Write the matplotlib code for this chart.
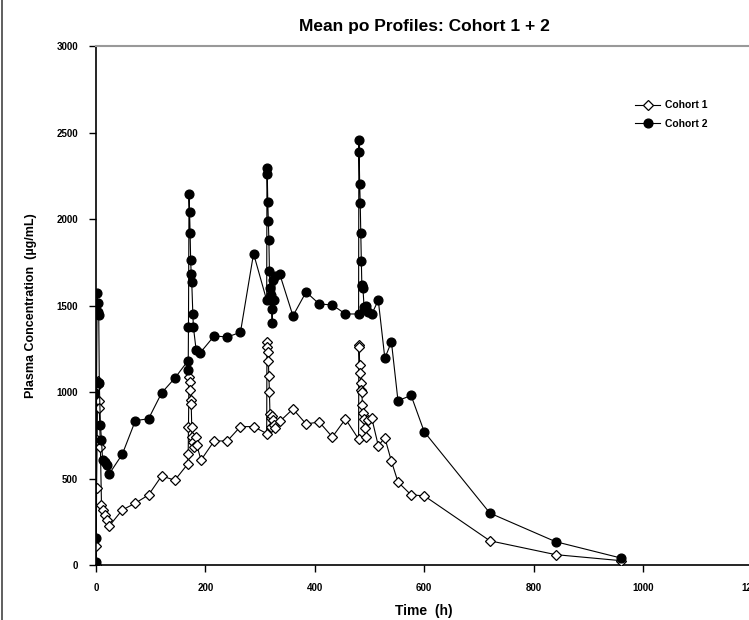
import matplotlib.pyplot as plt
from matplotlib.lines import Line2D

# Temps (h) et concentrations (µg/mL)
t1 = [0, 0.5, 1, 2, 3, 4, 5, 6, 8, 10, 12, 16, 20, 24, 48, 72, 96, 120, 144, 168,
      168.5, 169, 170, 171, 172, 173, 174, 175, 176, 178, 180, 182, 184, 192, 216, 240, 264, 288, 312,
      312.5, 313, 314, 315, 316, 317, 318, 319, 320, 322, 324, 326, 328, 336, 360, 384, 408, 432, 456, 480,
      480.5, 481, 482, 483, 484, 485, 486, 487, 488, 490, 492, 494, 497, 504, 516, 528, 540, 552, 576, 600, 720, 840, 960]
c1 = [0, 110, 445, 720, 1065, 1040, 950, 905, 680, 345, 318, 289, 260, 225, 318, 358, 405, 515, 490, 585,
      640, 800, 1087, 1058, 1012, 954, 931, 798, 740, 711, 682, 740, 694, 607, 717, 717, 800, 800, 760,
      1290, 1260, 1230, 1180, 1090, 1000, 870, 850, 800, 860, 840, 810, 790, 830, 902, 815, 827, 740, 844, 728,
      1270, 1260, 1156, 1110, 1052, 1012, 1000, 925, 879, 844, 792, 740, 840, 850, 690, 735, 600, 480, 405, 400, 140, 60, 25]

t2 = [0, 0.5, 1, 2, 3, 4, 5, 6, 8, 10, 12, 16, 20, 24, 48, 72, 96, 120, 144, 168,
      168.5, 169, 170, 171, 172, 173, 174, 175, 177, 178, 183, 190, 216, 240, 264, 288, 312,
      312.5, 313, 314, 315, 316, 317, 318, 319, 320, 321, 322, 324, 326, 328, 336, 360, 384, 408, 432, 456, 480,
      480.5, 481, 482, 483, 484, 485, 486, 487, 488, 490, 494, 497, 504, 516, 528, 540, 552, 576, 600, 720, 840, 960]
c2 = [20, 156, 1060, 1570, 1515, 1465, 1445, 1050, 810, 722, 607, 595, 578, 526, 640, 835, 845, 995, 1080, 1180,
      1130, 1376, 2144, 2040, 1919, 1763, 1682, 1636, 1451, 1376, 1243, 1225, 1324, 1318, 1345, 1800, 1530,
      2295, 2260, 2100, 1990, 1880, 1700, 1600, 1560, 1530, 1480, 1400, 1650, 1530, 1670, 1680, 1440, 1578, 1509, 1503, 1451, 1451,
      2455, 2390, 2200, 2090, 1920, 1760, 1610, 1620, 1600, 1490, 1500, 1460, 1450, 1530, 1195, 1290, 950, 980, 770, 300, 135, 40]

plt.rcParams['font.family'] = ['Liberation Sans', 'DejaVu Sans']

fig = plt.figure(figsize=(7.49, 6.2), dpi=100)
ax = fig.add_axes([0.1282, 0.0887, 0.8764, 0.8371])

ax.plot(t1, c1, color='black', lw=0.8, marker='D', markersize=5,
        markerfacecolor='white', markeredgecolor='black', markeredgewidth=0.9, label="Cohort 1", zorder=3)
ax.plot(t2, c2, color='black', lw=0.8, marker='o', markersize=6.3,
        markerfacecolor='black', markeredgecolor='black', label="Cohort 2", zorder=4)

ax.set_xlim(0, 1200)
ax.set_ylim(0, 3000)
ax.set_xticks([0, 200, 400, 600, 800, 1000, 1200])
ax.set_xticklabels(['0', '200', '400', '600', '800', '1000', '1200'])
ax.set_yticks([0, 500, 1000, 1500, 2000, 2500, 3000])
ax.tick_params(direction='out', length=5, width=1, labelsize=7, pad=8)
for lab in ax.get_xticklabels() + ax.get_yticklabels():
    lab.set_fontweight('bold')

ax.spines['right'].set_visible(False)
ax.spines['top'].set_color('#999999')
ax.spines['top'].set_linewidth(1.5)
ax.spines['left'].set_linewidth(1.2)
ax.spines['bottom'].set_linewidth(1.2)

ax.set_title("Mean po Profiles: Cohort 1 + 2", fontsize=12.5, fontweight='bold', pad=11)
ax.set_xlabel("Time  (h)", fontsize=10, fontweight='bold', labelpad=8)
ax.set_ylabel("Plasma Concentration  (µg/mL)", fontsize=9, fontweight='bold', labelpad=14)

leg = ax.legend(loc='upper left', bbox_to_anchor=(626 / 749, 1 - 91 / 620), bbox_transform=fig.transFigure,
                frameon=False, handlelength=2.4, handletextpad=0.4, labelspacing=0.8,
                prop={'weight': 'bold', 'size': 7.5})

# cadre gauche de la figure
fig.add_artist(Line2D([0.003, 0.003], [0, 1], color='#444444', lw=1.2, transform=fig.transFigure))

fig.savefig("out.png", dpi=100)
